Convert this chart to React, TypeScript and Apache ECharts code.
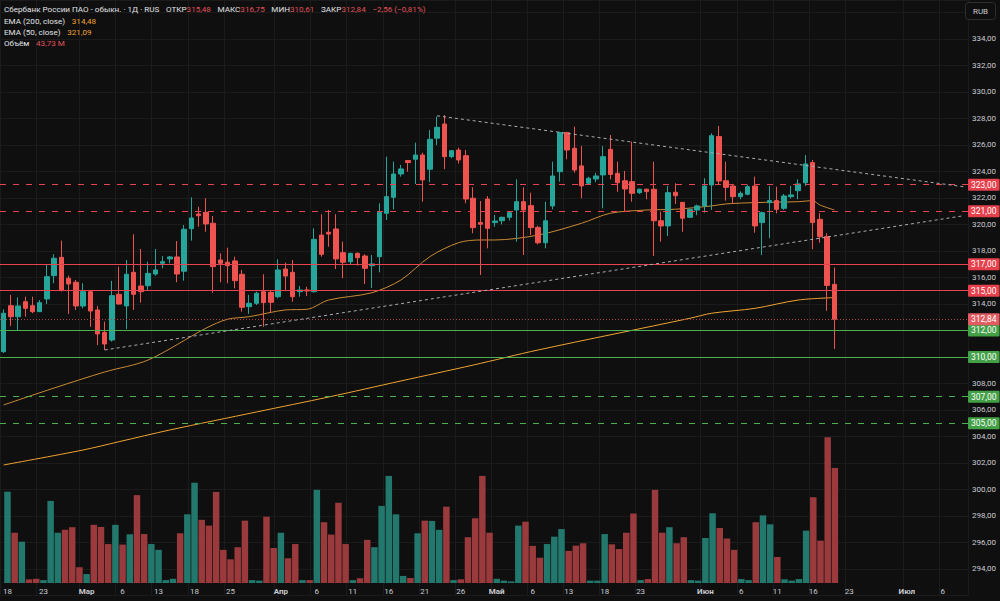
import React, { useEffect, useRef } from "react";
import * as echarts from "echarts";

// ---------- DATA ----------
const CATEGORY_COUNT = 134; // trading days shown incl. future space

const opens = [
  310.40, 313.87, 313.04, 314.17, 313.87, 313.42, 314.38, 316.14, 317.52, 315.94,
  315.64, 313.85, 314.93, 313.55, 311.86, 311.28, 314.73, 313.85, 316.39, 315.36,
  315.38, 316.26, 317.07, 317.40, 317.55, 316.47, 319.68, 320.79, 320.92, 320.09,
  317.32, 317.15, 317.25, 316.24, 313.80, 314.05, 314.93, 314.88, 314.55, 316.64,
  316.39, 314.93, 315.06, 314.93, 319.20, 319.41, 319.66, 317.87, 317.19, 317.82,
  317.62, 316.89, 317.57, 320.84, 322.05, 323.81, 324.82, 324.92, 325.24, 324.17,
  326.51, 327.58, 325.12, 325.62, 325.19, 321.98, 320.14, 321.92, 320.14, 320.28,
  320.54, 321.09, 321.72, 321.42, 319.78, 318.62, 321.40, 323.98, 326.93, 325.75,
  324.42, 323.11, 323.43, 323.74, 325.67, 323.86, 323.30, 323.23, 322.40, 322.66,
  322.66, 320.28, 319.89, 322.43, 321.67, 320.54, 321.09, 321.40, 322.98, 326.63,
  323.30, 322.90, 322.10, 322.28, 322.90, 320.14, 321.65, 321.80, 321.22, 322.10,
  322.55, 323.15, 324.67, 320.39, 319.08, 315.48,
];
const closes = [
  313.30, 313.04, 313.85, 313.67, 313.42, 314.10, 316.06, 317.45, 315.06, 315.51,
  313.85, 314.93, 313.47, 311.74, 310.98, 314.63, 314.00, 316.24, 314.73, 314.93,
  316.31, 316.57, 317.19, 317.55, 316.26, 319.64, 320.49, 320.66, 320.04, 316.82,
  317.07, 316.89, 315.76, 313.75, 314.05, 314.81, 314.10, 314.13, 316.57, 316.11,
  314.55, 315.06, 314.98, 318.88, 317.75, 319.28, 317.40, 317.15, 317.82, 317.49,
  316.69, 317.02, 320.92, 322.10, 323.81, 324.19, 324.67, 325.24, 323.36, 326.43,
  327.33, 325.12, 325.57, 324.87, 321.92, 319.76, 320.02, 319.71, 320.26, 320.54,
  320.89, 321.72, 321.09, 319.76, 318.62, 320.28, 323.66, 326.93, 325.62, 324.11,
  322.91, 323.49, 323.66, 325.12, 323.78, 323.15, 322.68, 322.35, 322.66, 322.48,
  320.28, 319.89, 322.40, 322.17, 320.47, 321.14, 321.40, 322.90, 326.70, 323.28,
  322.80, 322.10, 322.35, 322.85, 319.89, 320.89, 321.80, 321.14, 322.15, 322.23,
  323.06, 324.57, 320.14, 319.08, 315.40, 312.84,
];
const lows = [
  310.30, 312.34, 312.04, 313.04, 313.30, 313.40, 314.00, 315.56, 314.93, 313.25,
  313.55, 313.67, 312.28, 310.90, 310.53, 311.16, 313.95, 312.11, 313.55, 314.10,
  315.06, 316.14, 316.69, 317.07, 315.64, 315.76, 318.78, 319.83, 319.45, 314.85,
  315.64, 315.56, 315.18, 313.42, 313.25, 313.92, 312.28, 313.37, 314.43, 315.06,
  314.17, 314.55, 314.60, 314.85, 317.57, 318.32, 316.64, 315.94, 316.94, 316.90,
  315.51, 315.20, 316.39, 320.34, 321.14, 323.61, 323.98, 323.06, 321.72, 323.19,
  325.99, 324.17, 325.00, 324.60, 321.60, 319.34, 316.19, 318.20, 319.83, 320.00,
  320.30, 318.70, 317.70, 319.20, 318.50, 318.20, 321.14, 323.23, 324.92, 323.91,
  321.98, 323.00, 323.20, 321.22, 323.41, 322.47, 321.02, 321.72, 322.30, 321.90,
  317.62, 318.70, 319.13, 321.55, 319.45, 320.50, 320.70, 320.89, 321.10, 322.98,
  321.80, 321.55, 321.90, 322.20, 319.38, 317.70, 318.96, 320.84, 321.10, 321.96,
  321.90, 322.90, 318.13, 318.62, 313.49, 310.61,
];
const highs = [
  313.60, 314.68, 314.50, 314.55, 314.55, 314.30, 317.02, 317.75, 318.78, 316.14,
  315.81, 315.56, 315.00, 313.85, 312.66, 315.74, 316.82, 317.32, 319.26, 318.15,
  317.19, 318.15, 317.62, 317.62, 318.75, 319.96, 322.05, 321.34, 321.98, 320.64,
  317.82, 318.25, 317.57, 316.57, 314.68, 314.93, 316.24, 315.06, 317.37, 317.12,
  317.32, 315.36, 315.30, 319.71, 320.77, 321.09, 320.77, 318.70, 317.87, 317.90,
  317.75, 317.70, 321.60, 325.12, 324.74, 324.49, 324.85, 326.17, 325.42, 327.13,
  328.14, 328.26, 325.60, 325.80, 325.62, 322.80, 321.77, 322.15, 320.72, 320.60,
  321.00, 323.41, 322.80, 322.40, 319.90, 321.72, 324.74, 327.00, 327.00, 327.38,
  325.92, 323.60, 323.90, 325.92, 326.75, 324.74, 324.04, 326.25, 322.70, 322.70,
  324.74, 320.97, 322.90, 323.11, 321.70, 321.20, 321.50, 323.49, 326.88, 327.43,
  324.74, 322.98, 322.50, 323.00, 323.61, 320.97, 322.90, 322.85, 322.30, 322.90,
  323.41, 325.24, 324.87, 320.84, 319.34, 316.75,
];
// volume, millions
const volumes = [
  34.7, 19.1, 15.7, 1.4, 1.6, 1.1, 31.2, 19.1, 20.2, 21.2,
  6.0, 3.4, 22.1, 21.3, 14.8, 22.1, 14.6, 18.5, 33.4, 18.6,
  14.8, 12.6, 1.1, 1.6, 18.9, 26.1, 38.1, 24.0, 21.8, 34.6,
  12.6, 9.0, 13.6, 23.7, 1.1, 0.9, 25.2, 13.3, 19.1, 9.4,
  14.8, 1.1, 1.1, 35.4, 23.1, 18.4, 30.5, 14.8, 1.1, 1.8,
  16.4, 13.6, 29.3, 40.7, 26.1, 2.7, 1.9, 18.9, 23.7, 23.6,
  20.2, 29.0, 1.1, 1.4, 17.4, 24.6, 40.7, 19.1, 1.6, 0.9,
  0.6, 21.8, 23.3, 14.1, 9.6, 14.8, 17.6, 20.5, 12.2, 14.2,
  15.1, 0.9, 0.9, 18.6, 14.7, 12.9, 19.1, 26.4, 1.1, 1.5,
  35.4, 19.1, 21.2, 15.1, 17.4, 1.1, 0.9, 17.1, 26.5, 20.9,
  16.9, 12.6, 1.5, 1.1, 23.1, 25.7, 22.3, 9.9, 1.4, 0.9,
  1.5, 19.9, 32.6, 16.1, 55.4, 43.73,
];
// EMA points: [bar index, value]
const ema200Points: [number, number][] = [
  [0, 301.85], [11, 302.98], [16, 303.61], [23, 304.49], [35, 305.85], [45, 306.98],
  [55, 308.19], [65, 309.39], [74, 310.53], [95, 312.92], [98, 313.3], [104, 313.67],
  [110, 314.3], [115, 314.48],
];
const ema50Points: [number, number][] = [
  [0, 306.38], [7, 307.66], [14, 308.87], [20, 309.77], [28, 312.17], [31, 312.85],
  [34, 313.04], [39, 313.55], [42, 313.6], [45, 314.3], [51, 314.85], [55, 315.81],
  [59, 317.57], [63, 318.63], [66, 318.83], [68, 318.83], [74, 319.2], [80, 320.09],
  [84, 320.85], [89, 321.09], [93, 321.15], [98, 321.4], [100, 321.55], [104, 321.65],
  [110, 321.72], [112, 321.8], [113, 321.47], [115, 321.09],
];
// horizontal levels
const redDashedLevels = [323, 321];
const redSolidLevels = [317, 315];
const greenSolidLevels = [312, 310];
const greenDashedLevels = [307, 305];
// trend lines: [[startIndex, startPrice], [endIndex, endPrice]]
const trendLines: [number, number][][] = [
  [[60, 328.2], [133, 322.84]],
  [[14, 310.53], [133, 320.67]],
];
// x tick labels
const tickIndices = [0, 5, 11, 16, 21, 26, 31, 38, 43, 48, 53, 58, 63, 68, 73, 78, 83, 88, 97, 102, 107, 112, 117, 125, 130];
const tickTexts = ["18", "23", "Мар", "6", "13", "18", "25", "Апр", "6", "11", "16", "21", "26", "Май", "6", "13", "18", "23", "Июн", "6", "11", "16", "23", "Июл", "6"];

// ---------- STYLE ----------
const BG = "#0f0f0f";
const GRID = "#1b1b1b";
const TXT = "#c9cbd1";
const UP = "#26a69a";
const DOWN = "#ef5350";
const VOL_UP = "#23786e";
const VOL_DOWN = "#9a3a3d";
const RED_LINE = "#e8434f";
const GREEN_LINE = "#4caf50";
const EMA200_C = "#f0a232";
const EMA50_C = "#c98a35";
const FONT = "Roboto, 'Noto Sans', sans-serif";

const fmt = (v: number) => v.toFixed(2).replace(".", ",").replace("-", "−");

export default function App() {
  const ref = useRef<HTMLDivElement>(null);
  useEffect(() => {
    if (!ref.current) return;
    const chart = echarts.init(ref.current, null, { renderer: "svg" });

    const categories = Array.from({ length: CATEGORY_COUNT }, (_, i) => String(i));
    const tickSet = new Set(tickIndices);
    const tickMap = new Map<number, string>();
    tickIndices.forEach((k, i) => tickMap.set(k, tickTexts[i]));

    const candleData = opens.map((o, i) => [o, closes[i], lows[i], highs[i]]);
    const volData = volumes.map((v, i) => ({
      value: v,
      itemStyle: { color: closes[i] >= opens[i] ? VOL_UP : VOL_DOWN },
    }));
    const toSeries = (pts: [number, number][]) => {
      const arr: (number | null)[] = categories.map(() => null);
      pts.forEach(([k, v]) => (arr[k] = v));
      return arr;
    };

    const levelLine = (v: number, color: string, type: any, boxColor: string) => ({
      yAxis: v,
      lineStyle: { color, type, width: 1 },
      label: {
        show: true,
        position: "end",
        formatter: fmt(v),
        color: "#ffffff",
        backgroundColor: boxColor,
        padding: [2, 3, 1, 3],
        fontSize: 8.5,
        distance: 0,
        borderRadius: 1,
      },
    });

    const last = closes.length - 1;
    const lastClose = closes[last];
    const prevClose = closes[last - 1];
    const chg = lastClose - prevClose;
    const pct = (chg / prevClose) * 100;

    const markData: any[] = [
      ...redDashedLevels.map((v) => levelLine(v, RED_LINE, [6, 7], "#e5404c")),
      ...redSolidLevels.map((v) => levelLine(v, RED_LINE, "solid", "#e5404c")),
      ...greenSolidLevels.map((v) => levelLine(v, GREEN_LINE, "solid", "#43a047")),
      ...greenDashedLevels.map((v) => levelLine(v, GREEN_LINE, [6, 7], "#43a047")),
      levelLine(lastClose, "#a8434a", [1, 2], "#e25b62"),
      ...trendLines.map(([a, b]) => [
        { coord: a, lineStyle: { color: "#a9acb4", type: [3, 3], width: 1 }, label: { show: false } },
        { coord: b },
      ]),
    ];

    const LFS = 8.1;
    const richLegend = {
      t: { fill: "#e0e2e6", fontSize: LFS, fontFamily: FONT },
      r: { fill: "#e0525a", fontSize: LFS, fontFamily: FONT },
      o: { fill: EMA200_C, fontSize: LFS, fontFamily: FONT },
    };
    const e200 = ema200Points[ema200Points.length - 1][1];
    const e50 = ema50Points[ema50Points.length - 1][1];

    const option: any = {
      animation: false,
      backgroundColor: BG,
      textStyle: { fontFamily: FONT },
      grid: [
        { left: -3.6, right: 32, top: 0, bottom: 5.5 },
        { left: -3.6, right: 32, top: 383, bottom: 18 },
      ],
      xAxis: [
        {
          type: "category",
          gridIndex: 0,
          data: categories,
          axisLine: { show: false },
          axisTick: { show: false },
          axisLabel: { show: false },
          splitLine: { show: true, interval: (i: number) => tickSet.has(i), lineStyle: { color: GRID } },
        },
        {
          type: "category",
          gridIndex: 1,
          data: categories,
          axisLine: { show: false },
          axisTick: { show: false },
          splitLine: { show: false },
          axisLabel: {
            interval: (i: number) => tickSet.has(i),
            formatter: (_v: string, i: number) => {
              const t = tickMap.get(i) || "";
              return /[А-Яа-я]/.test(t) ? `{m|${t}}` : t;
            },
            color: TXT,
            fontSize: 8,
            margin: 4,
            rich: { m: { fontWeight: "bold", fontSize: 8, color: TXT } },
          },
        },
      ],
      yAxis: [
        {
          type: "value",
          gridIndex: 0,
          position: "right",
          min: 292,
          max: 336.94,
          interval: 2,
          axisLine: { show: false },
          axisTick: { show: false },
          splitLine: { show: true, lineStyle: { color: GRID } },
          axisLabel: {
            color: TXT,
            fontSize: 8,
            margin: 4,
            formatter: (v: number) =>
              v > 334 || v < 294 || v === 310 || v === 312 ? "" : fmt(v),
          },
        },
        { type: "value", gridIndex: 1, min: 0, max: 76, show: false },
      ],
      series: [
        {
          type: "bar",
          name: "Объём",
          xAxisIndex: 1,
          yAxisIndex: 1,
          data: volData,
          barCategoryGap: "10%",
          z: 1,
        },
        {
          type: "line",
          name: "EMA 200",
          xAxisIndex: 0,
          yAxisIndex: 0,
          data: toSeries(ema200Points),
          connectNulls: true,
          showSymbol: false,
          smooth: 0.3,
          lineStyle: { color: EMA200_C, width: 1 },
          z: 2,
        },
        {
          type: "line",
          name: "EMA 50",
          xAxisIndex: 0,
          yAxisIndex: 0,
          data: toSeries(ema50Points),
          connectNulls: true,
          showSymbol: false,
          smooth: 0.3,
          lineStyle: { color: EMA50_C, width: 1 },
          z: 2,
        },
        {
          type: "candlestick",
          name: "SBER",
          xAxisIndex: 0,
          yAxisIndex: 0,
          data: candleData,
          barWidth: 5,
          itemStyle: { color: UP, color0: DOWN, borderColor: UP, borderColor0: DOWN, borderWidth: 1 },
          z: 3,
          markLine: {
            silent: true,
            symbol: ["none", "none"],
            animation: false,
            data: markData,
          },
        },
      ],
      graphic: [
        {
          type: "group",
          z: 100,
          children: [
            {
              type: "text",
              z: 101,
              x: 4,
              y: 9,
              style: {
                text:
                  `{t|Сбербанк России ПАО - обыкн. · 1Д · RUS}  {t|ОТКР}{r|${fmt(opens[last])}}  {t|МАКС}{r|${fmt(highs[last])}}  {t|МИН}{r|${fmt(lows[last])}}  {t|ЗАКР}{r|${fmt(lastClose)}}  {r|${fmt(chg)} (${fmt(pct)}%)}`,
                rich: richLegend,
                verticalAlign: "middle",
              },
            },
            {
              type: "text",
              z: 101,
              x: 4,
              y: 20.5,
              style: { text: `{t|EMA (200, close)}  {o|${fmt(e200)}}`, rich: richLegend, verticalAlign: "middle" },
            },
            {
              type: "text",
              z: 101,
              x: 4,
              y: 31.5,
              style: { text: `{t|EMA (50, close)}  {o|${fmt(e50)}}`, rich: richLegend, verticalAlign: "middle" },
            },
            {
              type: "text",
              z: 101,
              x: 4,
              y: 42.5,
              style: { text: `{t|Объём}  {r|${fmt(volumes[last])} M}`, rich: richLegend, verticalAlign: "middle" },
            },
            {
              type: "rect",
              z: 100,
              shape: { x: 965.5, y: 2.5, width: 30, height: 17, r: 3 },
              style: { fill: BG, stroke: "#2e2e2e", lineWidth: 1 },
            },
            {
              type: "text",
              z: 101,
              x: 980.5,
              y: 11,
              style: { text: "RUB", fill: TXT, fontSize: 8, fontFamily: FONT, align: "center", verticalAlign: "middle" },
            },
          ],
        },
      ],
    };
    chart.setOption(option);
    return () => chart.dispose();
  }, []);
  return (
    <div
      ref={ref}
      style={{ position: "fixed", left: 0, top: 0, width: 1000, height: 601, background: BG }}
    />
  );
}
